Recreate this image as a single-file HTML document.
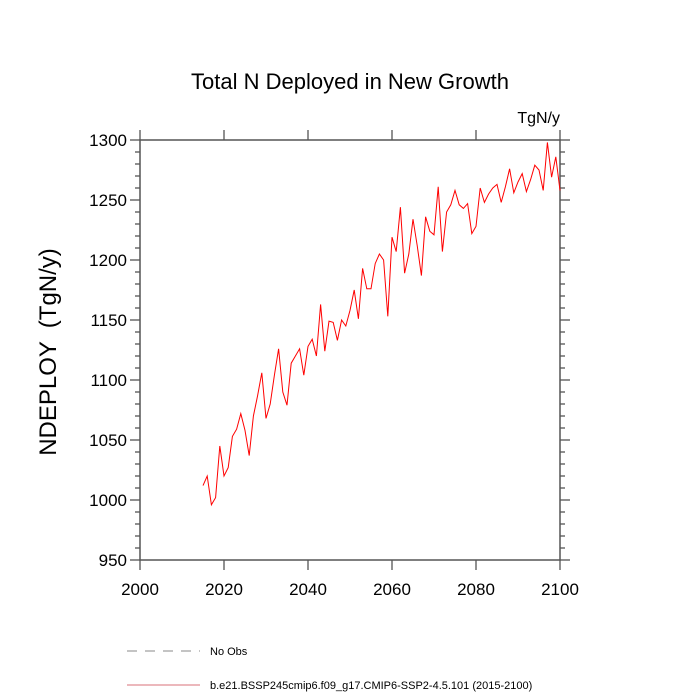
<!DOCTYPE html>
<html><head><meta charset="utf-8"><style>body{margin:0;background:#fff}svg{display:block;font-family:"Liberation Sans",sans-serif}</style></head>
<body>
<svg id="c" width="700" height="700">
<text x="350" y="89" text-anchor="middle" font-size="22">Total N Deployed in New Growth</text>
<text x="560" y="123" text-anchor="end" font-size="16">TgN/y</text>
<text transform="translate(56,352) rotate(-90)" text-anchor="middle" font-size="24">NDEPLOY &#160;(TgN/y)</text>
<g id="ax"></g>
<path id="line" fill="none" stroke="#ff0000" stroke-width="1"/>
<g>
<line x1="127" y1="651" x2="200" y2="651" stroke="#888" stroke-dasharray="10,8"/>
<text x="210" y="655" font-size="11">No Obs</text>
<line x1="127" y1="685" x2="200" y2="685" stroke="#d9707a"/>
<text x="210" y="689" font-size="11">b.e21.BSSP245cmip6.f09_g17.CMIP6-SSP2-4.5.101 (2015-2100)</text>
</g>
</svg>
<script>
const years=[];for(let y=2015;y<=2100;y++)years.push(y);
const values=[1012,1020,996,1002,1045,1020,1027,1053,1059,1072,1058,1037,1070,1087,1106,1068,1080,1104,1126,1090,1079,1114,1120,1126,1104,1128,1134,1120,1163,1124,1149,1148,1133,1150,1145,1158,1175,1151,1193,1176,1176,1197,1205,1200,1153,1219,1207,1244,1189,1205,1234,1212,1187,1236,1224,1221,1261,1207,1240,1246,1258,1246,1243,1247,1222,1228,1260,1248,1255,1260,1263,1248,1261,1276,1256,1265,1272,1257,1267,1279,1275,1258,1298,1269,1286,1258];
const xTicks=[2000,2020,2040,2060,2080,2100];
const yTicks=[950,1000,1050,1100,1150,1200,1250,1300];
const X0=140,X1=560,Y0=140,Y1=560;
const sx=v=>X0+(v-2000)/100*(X1-X0);
const sy=v=>Y1-(v-950)/350*(Y1-Y0);
const ns="http://www.w3.org/2000/svg",ax=document.getElementById('ax');
function ln(a,b,c,d,n){const l=document.createElementNS(ns,'line');l.setAttribute('x1',a);l.setAttribute('y1',b);l.setAttribute('x2',c);l.setAttribute('y2',d);l.setAttribute('stroke','#555');l.setAttribute('stroke-width','1.3');


ax.appendChild(l);}
function tx(x,y,s,a,n){const t=document.createElementNS(ns,'text');t.setAttribute('x',x);t.setAttribute('y',y);t.setAttribute('text-anchor',a);t.setAttribute('font-size','17');t.textContent=s;


ax.appendChild(t);}
const fr=document.createElementNS(ns,'rect');fr.setAttribute('x',X0);fr.setAttribute('y',Y0);fr.setAttribute('width',X1-X0);fr.setAttribute('height',Y1-Y0);fr.setAttribute('fill','none');fr.setAttribute('stroke','#555');fr.setAttribute('stroke-width','1.5');


ax.appendChild(fr);
xTicks.forEach(v=>{const x=sx(v);ln(x,Y1,x,Y1+10,'x-tick');ln(x,Y0,x,Y0-10,'x-tick-top');tx(x,Y1+35,v,'middle','x-tick-label');});
for(let v=950;v<=1300;v+=10){const y=sy(v),maj=(v%50===0);ln(X0,y,X0-(maj?10:5),y,'y-tick');ln(X1,y,X1+(maj?10:5),y,'y-tick-right');}
yTicks.forEach(v=>tx(X0-13,sy(v)+6,v,'end','y-tick-label'));
document.getElementById('line').setAttribute('d',values.map((v,i)=>(i?'L':'M')+sx(years[i]).toFixed(1)+','+sy(v).toFixed(1)).join(''));
</script>
</body></html>
